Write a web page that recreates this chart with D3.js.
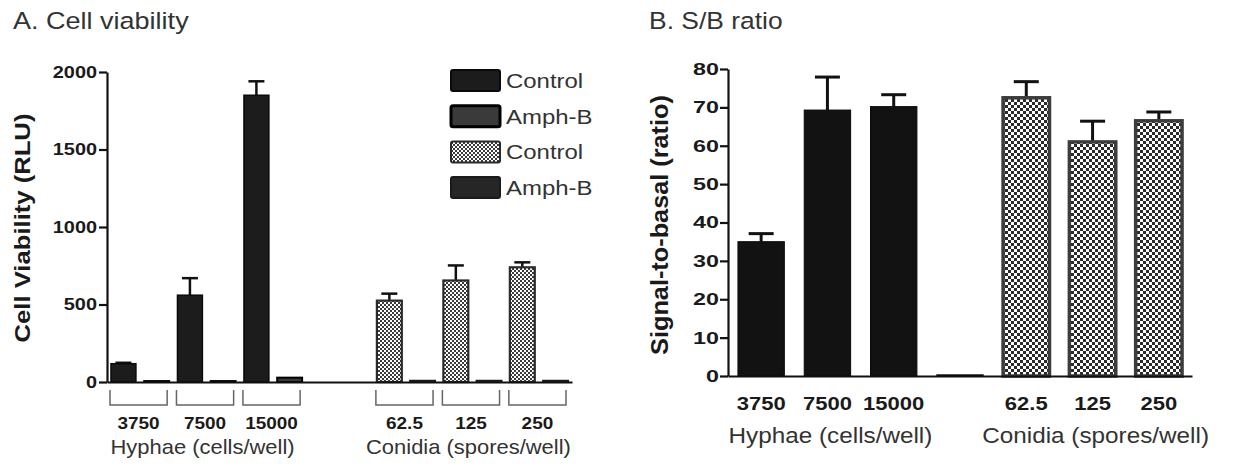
<!DOCTYPE html>
<html>
<head>
<meta charset="utf-8">
<script src="https://cdn.jsdelivr.net/npm/d3@7"></script>
<style>
  body { margin: 0; background: #fff; }
  svg { display: block; font-family: "Liberation Sans", Arial, sans-serif; }
</style>
</head>
<body>
<div id="chart_div"></div>
<script>
// Panel A data: cell viability (RLU)
const hyphaeDoses = ["3750", "7500", "15000"];
const conidiaDoses = ["62.5", "125", "250"];
const hyphaeControl = [118, 560, 1850];
const hyphaeControlErr = [6, 110, 90];
const hyphaeAmphB = [6, 6, 28];
const conidiaControl = [525, 655, 740];
const conidiaControlErr = [45, 97, 32];
const conidiaAmphB = [8, 8, 8];
const viabilityTicks = [0, 500, 1000, 1500, 2000];
const legendLabels = ["Control", "Amph-B", "Control", "Amph-B"];
const groupLabels = ["Hyphae (cells/well)", "Conidia (spores/well)"];

// Panel B data: signal-to-basal ratio
const sbLabels = ["3750", "7500", "15000", "", "62.5", "125", "250"];
const sbRatio = [35, 69.3, 70.2, 0.3, 72.5, 61, 66.5];
const sbErr = [2.1, 8.6, 3.1, 0, 4.2, 5.4, 2.3];
const sbTicks = [0, 10, 20, 30, 40, 50, 60, 70, 80];

const width = 1233;
const height = 465;
const font = '"Liberation Sans", Arial, sans-serif';

const svg = d3.select("#chart_div")
    .append("svg")
    .attr("width", width)
    .attr("height", height);

// checker patterns
const defs = svg.append("defs");
const checker = (id, s, dark) => {
    const p = defs.append("pattern")
        .attr("id", id)
        .attr("patternUnits", "userSpaceOnUse")
        .attr("width", s * 2)
        .attr("height", s * 2);
    p.append("rect").attr("width", s * 2).attr("height", s * 2).attr("fill", "#fff");
    p.append("rect").attr("width", s).attr("height", s).attr("fill", dark);
    p.append("rect").attr("x", s).attr("y", s).attr("width", s).attr("height", s).attr("fill", dark);
};
checker("checkA", 2, "#3a3a3a");
checker("checkB", 3, "#2a2a2a");

// text with a horizontal stretch (the source font runs wide)
const addText = (g, t, x, y, o) => g.append("text")
    .attr("transform", `translate(${x},${y}) rotate(${o.rotate || 0}) scale(${o.sx || 1},1)`)
    .attr("text-anchor", o.anchor || "start")
    .attr("font-family", font)
    .attr("font-size", o.size)
    .attr("font-weight", o.weight || "normal")
    .attr("fill", o.color || "#333")
    .text(t);

const styleAxis = (g, size, sx, pad) => {
    g.select(".domain").attr("stroke", "#111").attr("stroke-width", 2.2);
    g.selectAll(".tick line").attr("stroke", "#111").attr("stroke-width", 2.2);
    g.selectAll(".tick text")
        .attr("font-family", font)
        .attr("font-size", size)
        .attr("font-weight", "bold")
        .attr("fill", "#1a1a1a")
        .attr("x", -pad / sx)
        .attr("transform", `scale(${sx},1)`);
};

const styles = {
    solid: { fill: "#1c1c1c", stroke: "#0a0a0a", sw: 1.5 },
    amph1: { fill: "#3a3a3a", stroke: "#000", sw: 2 },
    checkA: { fill: "url(#checkA)", stroke: "#2a2a2a", sw: 2.2 },
    amph2: { fill: "#262626", stroke: "#1a1a1a", sw: 2 },
    solidB: { fill: "#121212", stroke: "#0a0a0a", sw: 1 },
    checkB: { fill: "url(#checkB)", stroke: "#3c3c3c", sw: 3.5 }
};

// ---------- Panel A ----------
const gA = svg.append("g");
addText(gA, "A. Cell viability", 13, 29, { size: 23.5, sx: 1.15, color: "#333" });

const yA = d3.scaleLinear().domain([0, 2000]).range([382, 72]);
const xA = d3.scaleBand().domain(d3.range(14)).range([107, 572])
    .paddingInner(0.25).paddingOuter(0.12);

const barsA = [];
hyphaeDoses.forEach((d, i) => {
    barsA.push({ slot: 2 * i, v: hyphaeControl[i], err: hyphaeControlErr[i], s: "solid" });
    barsA.push({ slot: 2 * i + 1, v: hyphaeAmphB[i], err: 0, s: "amph1" });
});
conidiaDoses.forEach((d, i) => {
    barsA.push({ slot: 8 + 2 * i, v: conidiaControl[i], err: conidiaControlErr[i], s: "checkA" });
    barsA.push({ slot: 9 + 2 * i, v: conidiaAmphB[i], err: 0, s: "amph2" });
});

const drawBars = (g, bars, x, y, capW, errW) => {
    const bw = x.bandwidth();
    const eb = g.append("g").attr("stroke", "#111").attr("stroke-width", errW);
    bars.filter(d => d.err > 0).forEach(d => {
        const cx = x(d.slot) + bw / 2;
        eb.append("line").attr("x1", cx).attr("x2", cx).attr("y1", y(d.v)).attr("y2", y(d.v + d.err));
        eb.append("line").attr("x1", cx - capW / 2).attr("x2", cx + capW / 2)
            .attr("y1", y(d.v + d.err)).attr("y2", y(d.v + d.err));
    });
    g.append("g").selectAll("rect")
        .data(bars)
        .join("rect")
        .attr("x", d => x(d.slot))
        .attr("y", d => y(d.v))
        .attr("width", bw)
        .attr("height", d => y(0) - y(d.v))
        .attr("fill", d => styles[d.s].fill)
        .attr("stroke", d => styles[d.s].stroke)
        .attr("stroke-width", d => styles[d.s].sw);
};
drawBars(gA, barsA, xA, yA, 16, 2.5);

gA.append("g")
    .attr("transform", `translate(0,${yA(0)})`)
    .call(d3.axisBottom(xA).tickValues([]).tickSizeOuter(0))
    .call(g => g.select(".domain").attr("stroke", "#111").attr("stroke-width", 2.2));

gA.append("g")
    .attr("transform", `translate(${xA.range()[0]},0)`)
    .call(d3.axisLeft(yA).tickValues(viabilityTicks).tickFormat(d3.format("d")).tickSize(8).tickSizeOuter(0))
    .call(g => styleAxis(g, 17, 1.17, 10));

addText(gA, "Cell Viability (RLU)", 30, 228, { size: 22.5, sx: 1.14, weight: "bold", rotate: -90, anchor: "middle", color: "#1a1a1a" });

// brackets and dose labels
const bwA = xA.bandwidth();
const pairs = hyphaeDoses.map((d, i) => ({ label: d, slot: 2 * i }))
    .concat(conidiaDoses.map((d, i) => ({ label: d, slot: 8 + 2 * i })));
pairs.forEach(p => {
    const x0 = xA(p.slot) - 1;
    const x1 = xA(p.slot + 1) + bwA - 2;
    gA.append("path")
        .attr("d", `M${x0},390V405H${x1}V390`)
        .attr("fill", "none")
        .attr("stroke", "#666")
        .attr("stroke-width", 1.5);
    addText(gA, p.label, (x0 + x1) / 2, 429, { size: 16.5, sx: 1.15, weight: "bold", anchor: "middle", color: "#1a1a1a" });
});
[[0, 5], [8, 13]].forEach((r, i) => {
    const c = (xA(r[0]) + xA(r[1]) + bwA) / 2 - 4;
    addText(gA, groupLabels[i], c, 454, { size: 19.6, sx: 1.12, anchor: "middle", color: "#333" });
});

// legend
const legendStyles = ["solid", "amph1", "checkA", "amph2"];
const legend = gA.append("g").attr("transform", "translate(451,70)");
legendLabels.forEach((l, i) => {
    const st = styles[legendStyles[i]];
    legend.append("rect")
        .attr("x", 0).attr("y", i * 35.7)
        .attr("width", 49).attr("height", 21).attr("rx", 2)
        .attr("fill", st.fill)
        .attr("stroke", st.stroke)
        .attr("stroke-width", legendStyles[i] === "amph1" ? 3 : 2);
    addText(legend, l, 55, i * 35.7 + 18, { size: 21, sx: 1.14, color: "#333" });
});

// ---------- Panel B ----------
const gB = svg.append("g");
addText(gB, "B. S/B ratio", 649, 29, { size: 23.5, sx: 1.125, color: "#333" });

const yB = d3.scaleLinear().domain([0, 80]).range([376, 69]);
const xB = d3.scaleBand().domain(d3.range(sbLabels.length)).range([728, 1192])
    .paddingInner(0.3).paddingOuter(0.15);

const barsB = sbRatio.map((v, i) => ({ slot: i, v: v, err: sbErr[i], s: i < 4 ? "solidB" : "checkB" }));
drawBars(gB, barsB, xB, yB, 25, 3);

gB.append("g")
    .attr("transform", `translate(0,${yB(0)})`)
    .call(d3.axisBottom(xB).tickValues([]).tickSizeOuter(0))
    .call(g => g.select(".domain").attr("stroke", "#111").attr("stroke-width", 2.2));

gB.append("g")
    .attr("transform", `translate(${xB.range()[0]},0)`)
    .call(d3.axisLeft(yB).tickValues(sbTicks).tickSize(8).tickSizeOuter(0))
    .call(g => styleAxis(g, 17, 1.37, 9));

addText(gB, "Signal-to-basal (ratio)", 668, 225, { size: 23, sx: 1.1, weight: "bold", rotate: -90, anchor: "middle", color: "#1a1a1a" });

const bwB = xB.bandwidth();
sbLabels.forEach((l, i) => {
    if (!l) return;
    addText(gB, l, xB(i) + bwB / 2, 410, { size: 18.5, sx: 1.19, weight: "bold", anchor: "middle", color: "#1a1a1a" });
});
[[0, 2], [4, 6]].forEach((r, i) => {
    const c = (xB(r[0]) + xB(r[1]) + bwB) / 2 + 3;
    addText(gB, groupLabels[i], c, 443, { size: 21.5, sx: 1.13, anchor: "middle", color: "#333" });
});
</script>
</body>
</html>
